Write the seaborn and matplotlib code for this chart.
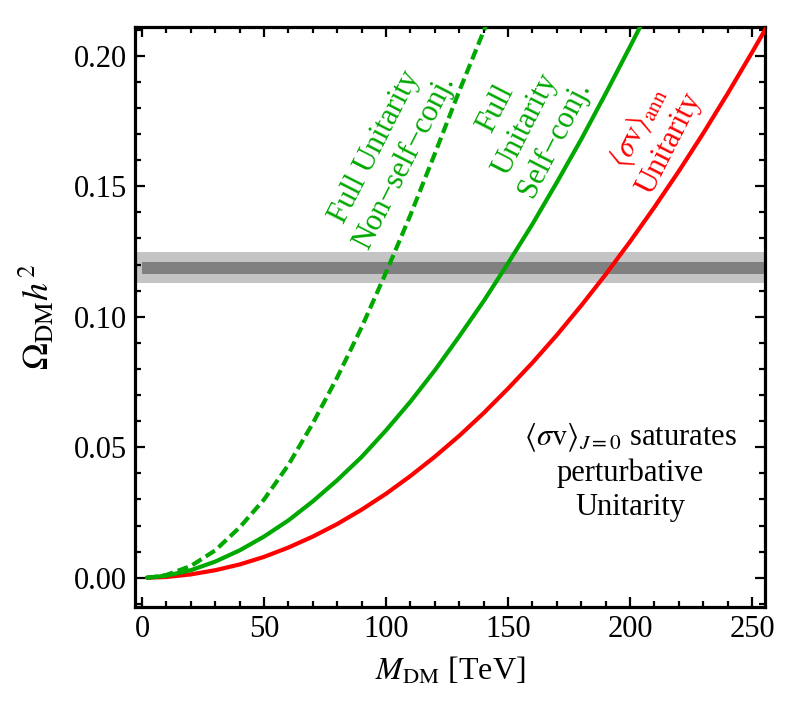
# Relic abundance vs DM mass under unitarity bounds
import matplotlib
matplotlib.use('Agg')
import matplotlib.pyplot as plt
import seaborn as sns
from matplotlib.ticker import MultipleLocator, FormatStrFormatter

sns.set_theme(style="ticks")
plt.rcParams['font.family'] = ['Liberation Serif', 'DejaVu Serif']
plt.rcParams['mathtext.fontset'] = 'stix'

GREEN = "#00a800"
RED = "#ff0000"

# red: <sigma v>_ann unitarity
m_ann = [2, 10, 20, 30, 40, 50, 60, 70, 80, 90, 100, 110, 120, 130, 140, 150,
         160, 170, 180, 190, 200, 210, 220, 230, 240, 250, 256]
omega_ann = [0.00001, 0.0003, 0.0013, 0.0029, 0.0051, 0.0080, 0.0116, 0.0158,
             0.0206, 0.0261, 0.0322, 0.0390, 0.0464, 0.0544, 0.0631, 0.0725,
             0.0824, 0.0930, 0.1043, 0.1162, 0.1288, 0.1420, 0.1558, 0.1703,
             0.1855, 0.2013, 0.2110]

# green solid: full unitarity, self-conjugate
m_sc = [2, 10, 20, 30, 40, 50, 60, 70, 80, 90, 100, 110, 120, 130, 140, 150,
        160, 170, 180, 190, 200, 206]
omega_sc = [0.00004, 0.0008, 0.0029, 0.0062, 0.0105, 0.0158, 0.0220, 0.0293,
            0.0374, 0.0463, 0.0565, 0.0675, 0.0795, 0.0925, 0.1060, 0.1205,
            0.1355, 0.1515, 0.1680, 0.1855, 0.2035, 0.2145]

# green dashed: full unitarity, non-self-conjugate
m_nsc = [2, 5, 10, 20, 30, 40, 50, 60, 70, 80, 90, 100, 110, 120, 130, 142]
omega_nsc = [0.00005, 0.0003, 0.0011, 0.0045, 0.0105, 0.0193, 0.0300, 0.0433,
             0.0592, 0.0768, 0.0960, 0.1170, 0.1390, 0.1625, 0.1865, 0.2140]

# Planck band
band_outer = (0.1128, 0.1247)
band_inner = (0.1164, 0.1211)

fig = plt.figure(figsize=(8.03, 7.15), dpi=100)
ax = fig.add_axes([135/803, 1-607/715, 630/803, 580/715])

xlim = (-2.9, 255.3)
ax.axhspan(*band_outer, color="#c4c4c4", lw=0, zorder=0)
ax.fill_between([0, xlim[1]], band_inner[0], band_inner[1], color="#808080", lw=0, zorder=1)

sns.lineplot(x=m_ann, y=omega_ann, ax=ax, color=RED, zorder=3)
sns.lineplot(x=m_sc, y=omega_sc, ax=ax, color=GREEN, zorder=3)
sns.lineplot(x=m_nsc, y=omega_nsc, ax=ax, color=GREEN, zorder=3)
for line in ax.lines:
    line.set_linewidth(3.0)
ax.lines[-1].set_dashes((2.6, 1.2))

ax.set_xlim(*xlim)
ax.set_ylim(-0.0112, 0.211)
ax.xaxis.set_major_locator(MultipleLocator(50))
ax.xaxis.set_minor_locator(MultipleLocator(10))
ax.yaxis.set_major_locator(MultipleLocator(0.05))
ax.yaxis.set_minor_locator(MultipleLocator(0.01))
ax.yaxis.set_major_formatter(FormatStrFormatter('%.2f'))
ax.tick_params(which='both', direction='in', top=True, right=True, width=1.6,
               labelsize=22, colors='black', pad=6)
ax.tick_params(which='major', length=7)
ax.tick_params(which='minor', length=4)
for s in ax.spines.values():
    s.set_linewidth(2.3)
    s.set_color('black')

ax.set_xlabel(r'$M_{\rm DM}$ [TeV]', fontsize=23, labelpad=8, color='black')
ax.set_ylabel(r'$\Omega_{\rm DM}h^2$', fontsize=26, labelpad=12, color='black')

ax.text(101.6, 0.162, 'Full Unitarity\nNon\u2212self\u2212conj.', color=GREEN, fontsize=22,
        rotation=63, ha='center', va='center', multialignment='center',
        rotation_mode='anchor')
ax.text(157, 0.1738, 'Full\nUnitarity\nSelf\u2212conj.', color=GREEN, fontsize=22,
        rotation=63, ha='center', va='center', multialignment='center',
        rotation_mode='anchor')
ax.text(209.4, 0.1696, '$\\langle\\sigma{\\rm v}\\rangle_{\\rm ann}$\nUnitarity', color=RED,
        fontsize=22, rotation=63, ha='center', va='center', multialignment='center',
        rotation_mode='anchor')
ax.text(200, 0.0406, '$\\langle\\sigma{\\rm v}\\rangle_{J=0}$ saturates\nperturbative\nUnitarity',
        color='black', fontsize=22, ha='center', va='center', multialignment='center')

fig.savefig('out.png', dpi=100)
